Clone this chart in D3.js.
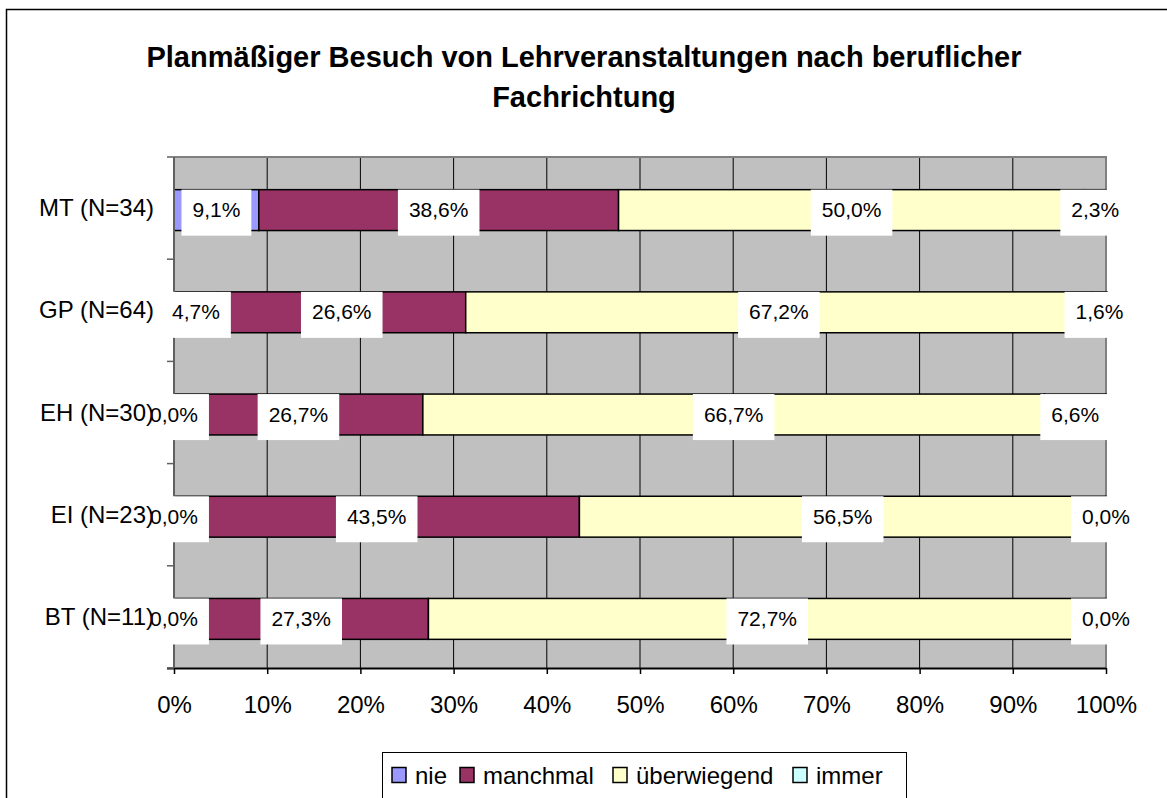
<!DOCTYPE html>
<html><head><meta charset="utf-8">
<script src="https://cdn.jsdelivr.net/npm/d3@7"></script>
<style>body{margin:0;background:#fff}svg{display:block}text{font-family:"Liberation Sans",Arial,sans-serif}</style>
</head><body>
<script>
const categories = ["MT (N=34)", "GP (N=64)", "EH (N=30)", "EI (N=23)", "BT (N=11)"];
const seriesNames = ["nie", "manchmal", "überwiegend", "immer"];
const nie = [9.1, 4.7, 0.0, 0.0, 0.0];
const manchmal = [38.6, 26.6, 26.7, 43.5, 27.3];
const ueberwiegend = [50.0, 67.2, 66.7, 56.5, 72.7];
const immer = [2.3, 1.6, 6.6, 0.0, 0.0];
const xTicks = [0, 10, 20, 30, 40, 50, 60, 70, 80, 90, 100];
const colors = ["#9999FF", "#993366", "#FFFFCC", "#CCFFFF"];

const W = 1167, H = 798;
const svg = d3.select("body").append("svg").attr("width", W).attr("height", H);
svg.append("rect").attr("x", 6.5).attr("y", 9.5).attr("width", 1300).attr("height", 1000)
  .attr("fill", "#fff").attr("stroke", "#000").attr("stroke-width", 1.5);

const pL = 174, pR = 1106, pT = 157, pB = 668;
const x = d3.scaleLinear().domain([0, 100]).range([pL, pR]);
const y = d3.scaleBand().domain(categories).range([pT, pB]).paddingInner(0.6).paddingOuter(0.3);

// title
const title = svg.append("text").attr("text-anchor", "middle").attr("font-weight", "bold").attr("font-size", 29).attr("fill", "#000");
title.append("tspan").attr("x", 584).attr("y", 67).text("Planmäßiger Besuch von Lehrveranstaltungen nach beruflicher");
title.append("tspan").attr("x", 584).attr("y", 107).text("Fachrichtung");

// plot background
svg.append("rect").attr("x", pL).attr("y", pT).attr("width", pR - pL).attr("height", pB - pT).attr("fill", "#C0C0C0");
// grid
svg.append("g").selectAll("line").data(xTicks.slice(1, -1)).join("line")
  .attr("x1", d => x(d)).attr("x2", d => x(d)).attr("y1", pT).attr("y2", pB)
  .attr("stroke", "#000").attr("stroke-width", 1);
// plot border top/right
svg.append("path").attr("d", `M${pL},${pT}H${pR}V${pB}`).attr("fill", "none").attr("stroke", "#808080").attr("stroke-width", 2);

// stacked data
const rows = categories.map((c, i) => ({cat: c, nie: nie[i], manchmal: manchmal[i], "überwiegend": ueberwiegend[i], immer: immer[i]}));
const stack = d3.stack().keys(seriesNames)(rows);

const gBars = svg.append("g");
stack.forEach((s, si) => {
  gBars.selectAll(null).data(s).join("rect")
    .attr("x", d => x(d[0])).attr("y", d => y(d.data.cat) + 2)
    .attr("width", d => Math.max(0, x(d[1]) - x(d[0]))).attr("height", y.bandwidth())
    .attr("fill", colors[si]).attr("stroke", "#000").attr("stroke-width", 1.5);
});

// axes
const xAxis = d3.axisBottom(x).tickValues(xTicks).tickFormat(d => d + "%").tickSize(6).tickPadding(22);
const gx = svg.append("g").attr("transform", `translate(0,${pB})`).call(xAxis);
gx.select(".domain").attr("stroke", "#000").attr("stroke-width", 2).attr("d", `M${pL - 7},0.5H${pR}`);
gx.selectAll(".tick line").attr("stroke", "#000").attr("stroke-width", 1.5);
gx.selectAll(".tick text").attr("font-size", 24).attr("fill", "#000").attr("font-family", "Liberation Sans, Arial, sans-serif");

svg.append("line").attr("x1", pL).attr("x2", pL).attr("y1", pT).attr("y2", pB).attr("stroke", "#606060").attr("stroke-width", 2);
const bounds = d3.range(categories.length + 1).map(i => pT + i * y.step());
svg.append("g").selectAll("line").data(bounds).join("line")
  .attr("x1", pL - 7).attr("x2", pL).attr("y1", d => d).attr("y2", d => d).attr("stroke", "#606060").attr("stroke-width", 1.5);

// data labels
const gLab = svg.append("g");
const fmt = v => v.toFixed(1).replace(".", ",") + "%";
stack.forEach((s, si) => {
  s.forEach(d => {
    const cx = x((d[0] + d[1]) / 2);
    const cy = y(d.data.cat) + 2;
    const g = gLab.append("g");
    const t = g.append("text").attr("x", cx).attr("y", cy + y.bandwidth() / 2 + 7)
      .attr("text-anchor", "middle").attr("font-size", 21).attr("fill", "#000").text(fmt(d[1] - d[0]));
    const bb = t.node().getBBox();
    g.insert("rect", "text").attr("x", cx - bb.width / 2 - 11).attr("y", cy)
      .attr("width", bb.width + 22).attr("height", 46).attr("fill", "#fff");
  });
});

// category labels (on top)
svg.append("g").selectAll("text").data(categories).join("text")
  .attr("x", 154).attr("y", d => y(d) + 2 + y.bandwidth() / 2 + 6)
  .attr("text-anchor", "end").attr("font-size", 24).attr("fill", "#000").text(d => d);

// legend
const lg = svg.append("g");
lg.append("rect").attr("x", 382.5).attr("y", 752.5).attr("width", 524).attr("height", 80).attr("fill", "#fff").attr("stroke", "#000").attr("stroke-width", 1);
const legX = [392, 460, 613, 793];
seriesNames.forEach((n, i) => {
  lg.append("rect").attr("x", legX[i]).attr("y", 767.5).attr("width", 14).attr("height", 15)
    .attr("fill", colors[i]).attr("stroke", "#000").attr("stroke-width", 1.5);
  lg.append("text").attr("x", legX[i] + 23).attr("y", 784).attr("font-size", 24).attr("fill", "#000").text(n);
});
</script>
</body></html>
